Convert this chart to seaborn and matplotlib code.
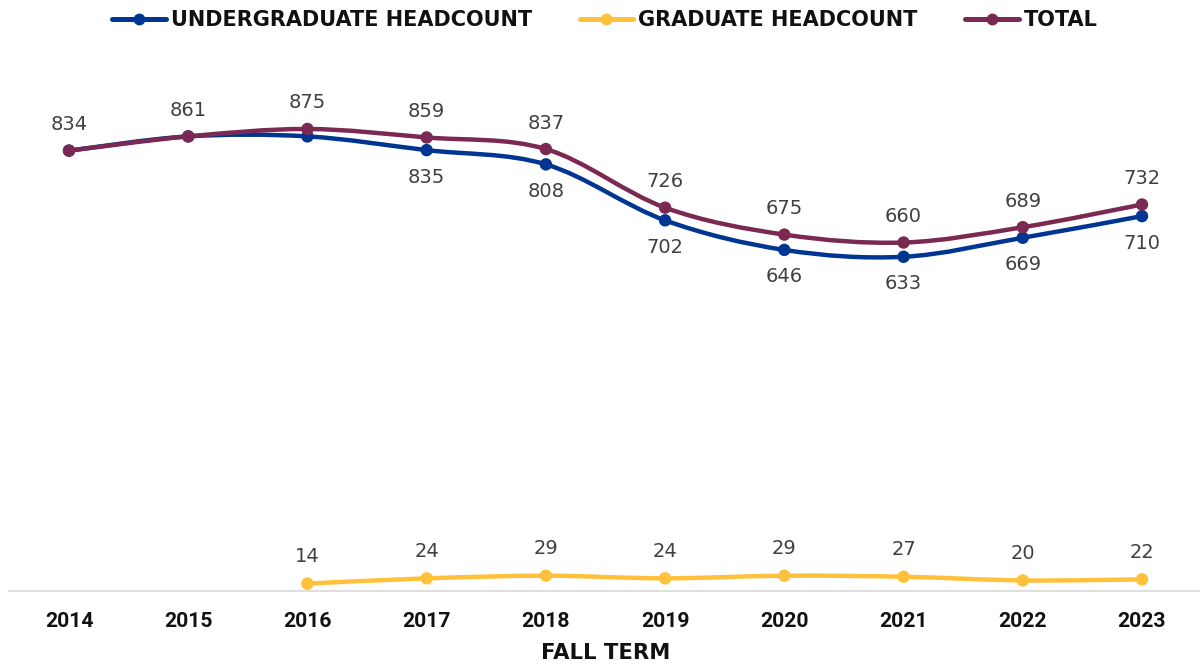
import numpy as np
import pandas as pd
import matplotlib
matplotlib.use("Agg")
import matplotlib.pyplot as plt
from matplotlib.path import Path
from matplotlib.patches import PathPatch
import seaborn as sns

years = ["2014", "2015", "2016", "2017", "2018", "2019", "2020", "2021", "2022", "2023"]
undergrad = [834, 861, 861, 835, 808, 702, 646, 633, 669, 710]
graduate = [np.nan, np.nan, 14, 24, 29, 24, 29, 27, 20, 22]
total = [834, 861, 875, 859, 837, 726, 675, 660, 689, 732]

series_names = ["UNDERGRADUATE HEADCOUNT", "GRADUATE HEADCOUNT", "TOTAL"]
colors = {"UNDERGRADUATE HEADCOUNT": "#003591",
          "GRADUATE HEADCOUNT": "#FFC13B",
          "TOTAL": "#7B2852"}

sns.set_theme(style="white")
plt.rcParams['font.family'] = ['DejaVu Sans']

fig = plt.figure(figsize=(12, 6.67), dpi=100)
ax = fig.add_axes([9.4 / 1200, (667 - 591) / 667, (1201.6 - 9.4) / 1200, 528 / 667])

df = pd.DataFrame({"year": years, "UNDERGRADUATE HEADCOUNT": undergrad,
                   "GRADUATE HEADCOUNT": graduate, "TOTAL": total})
long = df.melt(id_vars="year", var_name="series", value_name="value").dropna()
long["x"] = long["year"].map({y: i for i, y in enumerate(years)})


def smooth_path(xs, ys):
    xs = np.asarray(xs, float)
    ys = np.asarray(ys, float)
    n = len(xs)
    verts = [(xs[0], ys[0])]
    codes = [Path.MOVETO]
    for i in range(n - 1):
        p0 = np.array([xs[max(i - 1, 0)], ys[max(i - 1, 0)]])
        p1 = np.array([xs[i], ys[i]])
        p2 = np.array([xs[i + 1], ys[i + 1]])
        p3 = np.array([xs[min(i + 2, n - 1)], ys[min(i + 2, n - 1)]])
        c1 = p1 + (p2 - p0) / 6.0
        c2 = p2 - (p3 - p1) / 6.0
        verts += [tuple(c1), tuple(c2), tuple(p2)]
        codes += [Path.CURVE4] * 3
    return Path(verts, codes)


for name in ["GRADUATE HEADCOUNT", "UNDERGRADUATE HEADCOUNT", "TOTAL"]:
    sub = long[long["series"] == name]
    ax.add_patch(PathPatch(smooth_path(sub["x"], sub["value"]), facecolor="none",
                           edgecolor=colors[name], lw=3.2, capstyle="round",
                           joinstyle="round", zorder=2))

sns.scatterplot(data=long, x="x", y="value", hue="series", hue_order=series_names,
                palette=colors, s=80, edgecolor="none", ax=ax, legend=False, zorder=3)

label_kw = dict(ha="center", va="center", fontsize=14, color="#404040",
                textcoords="offset pixels")
for i, v in enumerate(total):
    ax.annotate(f"{v}", (i, v), xytext=(0, 26), **label_kw)
for i, v in enumerate(undergrad):
    if i >= 3:
        ax.annotate(f"{v}", (i, v), xytext=(0, -27), **label_kw)
for i, v in enumerate(graduate):
    if not np.isnan(v):
        ax.annotate(f"{int(v)}", (i, v), xytext=(0, 27), **label_kw)

ax.set_xlim(-0.5, 9.5)
ax.set_ylim(0, 1000)
ax.set_xticks(range(len(years)))
ax.set_xticklabels(years, fontsize=15.2, fontweight="bold", family="Roboto", color="#111111")
ax.set_yticks([])
ax.tick_params(axis="x", length=0, pad=15)
ax.set_xlabel("FALL TERM", fontsize=15.2, fontweight="bold", family="DejaVu Sans",
              color="#111111", labelpad=9)
ax.set_ylabel("")
for s in ["top", "right", "left"]:
    ax.spines[s].set_visible(False)
ax.spines["bottom"].set_color("#D9D9D9")
ax.spines["bottom"].set_linewidth(1.2)

handles = [plt.Line2D([], [], color=colors[n], lw=3.6, marker="o", markersize=7.5,
                      solid_capstyle="round") for n in series_names]
leg = fig.legend(handles, series_names, loc="center", bbox_to_anchor=(605 / 1200, 1 - 20.5 / 667),
                 ncol=3, frameon=False, handlelength=2.55, handletextpad=0.25,
                 columnspacing=2.3, prop={"family": "DejaVu Sans", "weight": "bold", "size": 15})
for t in leg.get_texts():
    t.set_color("#111111")

fig.savefig("out.png", dpi=100)
